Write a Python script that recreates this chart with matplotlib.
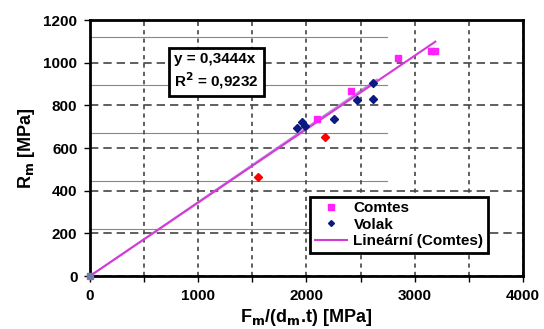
import numpy as np
import matplotlib.pyplot as plt

plt.rcParams['font.family'] = ['Liberation Sans', 'DejaVu Sans']
plt.rcParams['font.weight'] = 'bold'

# data
comtes_x = [2097, 2411, 2845, 3150, 3185]
comtes_y = [736, 867, 1022, 1055, 1055]
volak_x = [1912, 1958, 1986, 2254, 2466, 2614, 2614]
volak_y = [694, 722, 703, 736, 825, 830, 905]
red_x = [1552, 2171]
red_y = [464, 651]
origin_x = [0]
origin_y = [0]
slope = 0.3444
fit_x = [0, 3190]
fit2_x = [0, 2650]
fit2_slope = 0.348
ref_lines_y = [1120, 895, 670, 445, 220]

fig = plt.figure(figsize=(5.44, 3.29), dpi=100)
ax = fig.add_axes([0.1654, 0.161, 0.7960, 0.778])

ax.set_xlim(0, 4000)
ax.set_ylim(0, 1200)
ax.set_xticks(np.arange(0, 4001, 500))
ax.set_xticklabels(['0', '', '1000', '', '2000', '', '3000', '', '4000'])
ax.set_yticks(np.arange(0, 1201, 200))
ax.xaxis.grid(True, color='#444444', linestyle=(0, (2.5, 2.5)), linewidth=1.2)
ax.yaxis.grid(True, color='#444444', linestyle=(0, (5, 3)), linewidth=1.2)
ax.tick_params(axis='both', direction='out', length=4, width=1, labelsize=11, pad=5)
for s in ax.spines.values():
    s.set_linewidth(2)

# faint horizontal lines left over from the source image
for yv in ref_lines_y:
    ax.plot([0, 2745], [yv, yv], color='#888888', linewidth=0.8, zorder=1)

ax.plot(fit2_x, [fit2_slope * v for v in fit2_x], color='#9966cc', linewidth=1.2, alpha=0.7, zorder=2)
ax.plot(fit_x, [slope * v for v in fit_x], color='#d63ad6', linewidth=1.5, zorder=3,
        label='Lineární (Comtes)')

ax.plot(comtes_x, comtes_y, 's', color='#ff22ff', markersize=5, zorder=4, label='Comtes')
ax.plot(volak_x, volak_y, 'D', color='#0b1a80', markersize=4, zorder=4, label='Volak')
ax.plot(red_x, red_y, 'D', color='#ff0000', markersize=4, zorder=4)
ax.plot(origin_x, origin_y, 's', color='#7777aa', markersize=4, zorder=5, clip_on=False)

h, l = ax.get_legend_handles_labels()
order = [1, 2, 0]
leg = ax.legend([h[i] for i in order], [l[i] for i in order], loc='lower right',
                bbox_to_anchor=(0.937, 0.062), fontsize=11, fancybox=False,
                framealpha=1, edgecolor='black', handlelength=2.1, handletextpad=0.45,
                borderpad=0.3, labelspacing=0.15, markerscale=0.75)
leg.get_frame().set_linewidth(2)

ax.text(0.195, 0.80, 'y = 0,3444x\nR$^\\mathbf{2}$ = 0,9232', transform=ax.transAxes,
        fontsize=11, fontweight='bold', va='center', ha='left', linespacing=1.25,
        bbox=dict(boxstyle='square,pad=0.35', facecolor='white', edgecolor='black', linewidth=2))

ax.set_xlabel('F$_\\mathbf{m}$/(d$_\\mathbf{m}$.t) [MPa]', fontsize=13, fontweight='bold', labelpad=3)
ax.set_ylabel('R$_\\mathbf{m}$ [MPa]', fontsize=13, fontweight='bold', labelpad=5)

fig.savefig('out.png', dpi=100)
